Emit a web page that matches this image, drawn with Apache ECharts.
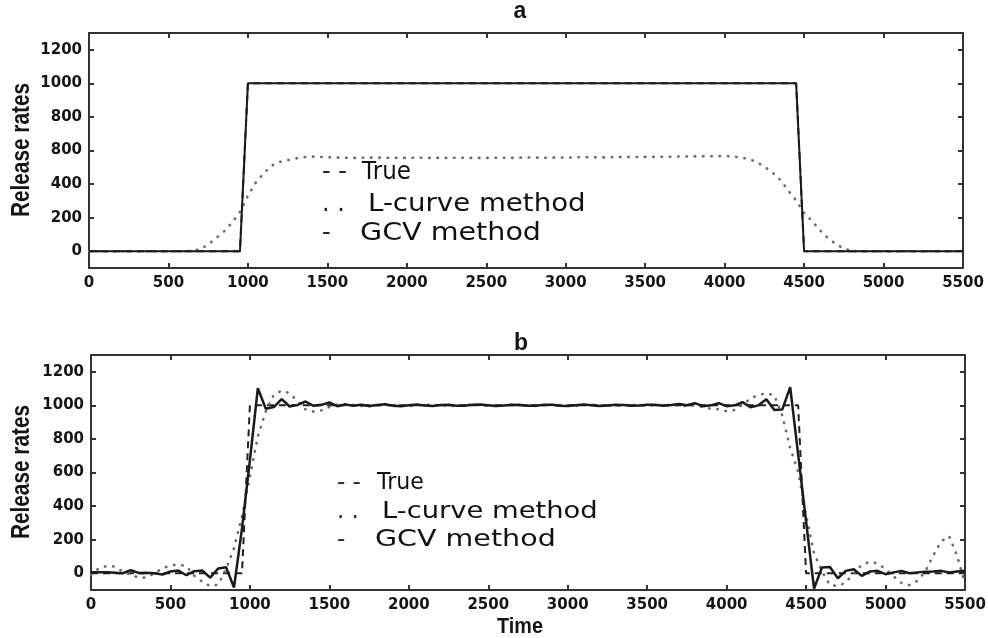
<!DOCTYPE html>
<html><head><meta charset="utf-8">
<script src="https://cdn.jsdelivr.net/npm/echarts@6/dist/echarts.min.js"></script>
<style>html,body{margin:0;padding:0;background:#fff}#c{width:988px;height:638px}</style>
</head><body><div id="c"></div><script>
// ---- data ----
const time = [
  0,50,100,150,200,250,300,350,400,450,
  500,550,600,650,700,750,800,850,900,950,
  1000,1050,1100,1150,1200,1250,1300,1350,1400,1450,
  1500,1550,1600,1650,1700,1750,1800,1850,1900,1950,
  2000,2050,2100,2150,2200,2250,2300,2350,2400,2450,
  2500,2550,2600,2650,2700,2750,2800,2850,2900,2950,
  3000,3050,3100,3150,3200,3250,3300,3350,3400,3450,
  3500,3550,3600,3650,3700,3750,3800,3850,3900,3950,
  4000,4050,4100,4150,4200,4250,4300,4350,4400,4450,
  4500,4550,4600,4650,4700,4750,4800,4850,4900,4950,
  5000,5050,5100,5150,5200,5250,5300,5350,5400,5450,
  5500
];
const trueRate = [
  0,0,0,0,0,0,0,0,0,0,
  0,0,0,0,0,0,0,0,0,0,
  1000,1000,1000,1000,1000,1000,1000,1000,1000,1000,
  1000,1000,1000,1000,1000,1000,1000,1000,1000,1000,
  1000,1000,1000,1000,1000,1000,1000,1000,1000,1000,
  1000,1000,1000,1000,1000,1000,1000,1000,1000,1000,
  1000,1000,1000,1000,1000,1000,1000,1000,1000,1000,
  1000,1000,1000,1000,1000,1000,1000,1000,1000,1000,
  1000,1000,1000,1000,1000,1000,1000,1000,1000,1000,
  0,0,0,0,0,0,0,0,0,0,
  0,0,0,0,0,0,0,0,0,0,
  0
];
const gcvA = [
  0,0,0,0,0,0,0,0,0,0,
  0,0,0,0,0,0,0,0,0,0,
  1000,1000,1000,1000,1000,1000,1000,1000,1000,1000,
  1000,1000,1000,1000,1000,1000,1000,1000,1000,1000,
  1000,1000,1000,1000,1000,1000,1000,1000,1000,1000,
  1000,1000,1000,1000,1000,1000,1000,1000,1000,1000,
  1000,1000,1000,1000,1000,1000,1000,1000,1000,1000,
  1000,1000,1000,1000,1000,1000,1000,1000,1000,1000,
  1000,1000,1000,1000,1000,1000,1000,1000,1000,1000,
  0,0,0,0,0,0,0,0,0,0,
  0,0,0,0,0,0,0,0,0,0,
  0
];
const lcurveA = [
  0,0,0,0,0,0,0,0,0,0,
  0,0,0,3,12,40,78,118,170,235,
  330,410,465,510,532,542,552,560,564,562,
  560,558,557,556,556,557,558,557,556,556,
  556,557,557,556,556,556,557,557,556,556,
  556,557,557,556,557,558,558,557,557,558,
  558,559,560,560,559,559,560,561,561,561,
  562,562,563,563,564,564,565,565,566,566,
  567,565,558,550,532,503,470,425,362,302,
  228,180,125,78,43,15,3,0,0,0,
  0,0,0,0,0,0,0,0,0,0,
  0
];
const gcvB = [
  6,6,6,3,0,18,2,3,0,-8,
  10,16,-12,12,16,-26,28,36,-85,266,
  673,1102,980,990,1037,993,1003,1023,997,1003,
  1017,995,1005,998,1003,996,1002,1006,998,994,
  1001,1005,999,996,1002,1004,998,997,1003,1005,
  1000,996,999,1004,1002,997,998,1004,1003,998,
  996,1001,1005,1001,996,999,1004,1002,997,999,
  1004,1003,997,1002,1008,1001,1013,995,1000,1013,
  995,1000,1019,989,1000,1037,973,975,1108,708,
  308,-91,34,37,-30,14,24,-16,10,14,
  -6,5,14,0,5,8,10,14,4,10,
  14
];
const lcurveB = [
  -10,30,43,40,10,-10,-26,-26,0,30,
  45,52,42,-15,-50,-78,-68,25,150,340,
  575,815,965,1062,1088,1072,1025,975,963,970,
  990,1003,1008,1003,996,994,999,1004,1003,998,
  996,999,1003,1004,1000,996,997,1002,1004,1001,
  997,996,1000,1004,1003,999,997,1000,1004,1002,
  998,997,1001,1004,1002,998,997,1001,1003,1000,
  998,1000,1003,1002,999,996,1000,990,980,977,
  965,972,1005,1040,1062,1072,1060,940,745,605,
  345,120,10,-71,-76,-55,0,50,68,58,
  25,-18,-58,-71,-45,10,105,190,221,105,
  -60
];
const yTicks = [0,200,400,600,800,1000,1200];
const yTickLabelsA = ['0','200','400','800','800','1000','1200'];
const yTickLabelsB = ['0','200','400','600','800','1000','1200'];
const legendNames = ['True','L-curve method','GCV method'];
const legendMarks = ['- -','. .','-'];
const panelTitles = ['a','b'];
const yName = 'Release rates';
const xName = 'Time';

// ---- chart ----
const pairs = (ys) => time.map((t, i) => [t, ys[i]]);
const axisColor = '#333';
const tickFont = {fontFamily: 'DejaVu Sans', fontWeight: 'bold', fontSize: 15, color: '#151515'};
const grids = [
  {left: 89, top: 33, width: 874, height: 235, outerBoundsMode: 'none'},
  {left: 91, top: 355, width: 874, height: 235, outerBoundsMode: 'none'}
];
function xAx(g, pos) {
  return {
    type: 'value', gridIndex: g, position: pos, min: 0, max: 5500, interval: 500,
    axisLine: {show: true, onZero: false, lineStyle: {color: axisColor, width: 2}},
    axisTick: {show: true, inside: true, length: 5, lineStyle: {color: axisColor, width: 2}},
    axisLabel: pos === 'bottom' ? Object.assign({show: true, margin: 8, formatter: (v) => String(v)}, tickFont) : {show: false},
    splitLine: {show: false}
  };
}
function yAx(g, pos, labels) {
  const ax = {
    type: 'value', gridIndex: g, position: pos, min: -100, max: 1300,
    axisLine: {show: true, onZero: false, lineStyle: {color: axisColor, width: 2}},
    axisTick: {show: true, inside: true, length: 5, customValues: yTicks, lineStyle: {color: axisColor, width: 2}},
    axisLabel: {show: false},
    splitLine: {show: false}
  };
  if (labels) {
    ax.axisLabel = Object.assign({show: true, margin: 7, customValues: yTicks,
      formatter: (v) => labels[yTicks.indexOf(v)]}, tickFont);
  }
  return ax;
}
function trueS(x, y) {
  return {type: 'line', xAxisIndex: x, yAxisIndex: y, data: pairs(trueRate), showSymbol: false, z: 2,
    lineStyle: {color: '#222', width: 2, type: [7, 5]}};
}
function lS(x, y, d) {
  return {type: 'line', xAxisIndex: x, yAxisIndex: y, data: pairs(d), showSymbol: false, z: 3,
    lineStyle: {color: '#6a6a6a', width: 2.6, type: [0.5, 7.8], cap: 'round'}};
}
function gS(x, y, d, w) {
  return {type: 'line', xAxisIndex: x, yAxisIndex: y, data: pairs(d), showSymbol: false, z: 4,
    lineStyle: {color: '#1a1a1a', width: w}};
}
function legendText(x0, xs, ys, size, scales) {
  const out = [];
  for (let i = 0; i < 3; i++) {
    out.push({type: 'text', x: x0, y: ys[i], style: {text: legendMarks[i], font: size + 'px "DejaVu Sans"', fill: '#222', align: 'left', verticalAlign: 'middle'}});
    out.push({type: 'text', x: xs[i], y: ys[i], scaleX: scales[i], style: {text: legendNames[i], font: size + 'px "DejaVu Sans"', fill: '#111', align: 'left', verticalAlign: 'middle'}});
  }
  return out;
}
function label(text, x, y, font, sx, rot) {
  return {type: 'text', x: x, y: y, rotation: rot || 0, scaleX: sx,
    style: {text: text, font: font, fill: '#151515', align: 'center', verticalAlign: 'middle'}};
}
const chart = echarts.init(document.getElementById('c'), null, {renderer: 'canvas'});
chart.setOption({
  animation: false,
  backgroundColor: '#fff',
  grid: grids,
  xAxis: [xAx(0, 'bottom'), xAx(0, 'top'), xAx(1, 'bottom'), xAx(1, 'top')],
  yAxis: [yAx(0, 'left', yTickLabelsA), yAx(0, 'right', null), yAx(1, 'left', yTickLabelsB), yAx(1, 'right', null)],
  series: [
    trueS(0, 0), lS(0, 0, lcurveA), gS(0, 0, gcvA, 2),
    trueS(2, 2), lS(2, 2, lcurveB), gS(2, 2, gcvB, 2.5)
  ],
  graphic: [].concat(
    legendText(322, [362, 368, 360], [173, 205, 234], 24, [0.96, 1.15, 1.19]),
    legendText(337, [377, 382, 375], [483, 512, 540], 23, [0.96, 1.19, 1.24]),
    [
      label(panelTitles[0], 520, 12, 'bold 23px "Liberation Sans"', 1),
      label(panelTitles[1], 521, 344, 'bold 23px "Liberation Sans"', 1),
      label(xName, 520, 627, 'bold 22px "Liberation Sans"', 0.9),
      label(yName, 22, 150, 'bold 26px "Liberation Sans"', 0.8, Math.PI / 2),
      label(yName, 22, 472, 'bold 26px "Liberation Sans"', 0.8, Math.PI / 2)
    ]
  )
});
</script></body></html>
